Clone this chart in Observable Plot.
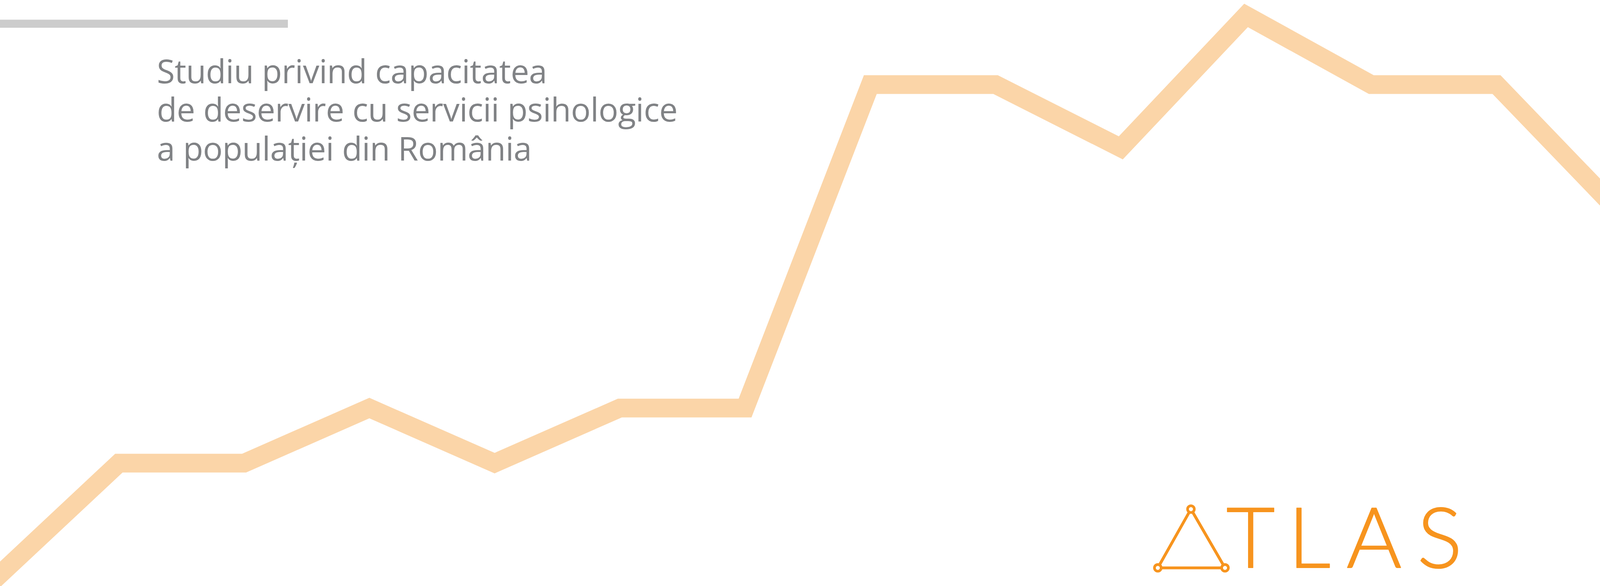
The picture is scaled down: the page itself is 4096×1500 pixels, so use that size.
<!DOCTYPE html>
<html>
<head>
<meta charset="utf-8">
<script src="https://cdn.jsdelivr.net/npm/d3@7"></script>
<script src="https://cdn.jsdelivr.net/npm/@observablehq/plot@0.6"></script>
<style>
  html, body { margin: 0; padding: 0; background: #ffffff; overflow: hidden; }
  #chart svg { display: block; overflow: hidden; }
</style>
</head>
<body>
<div id="chart"></div>
<script>
// ---- data ----
const steps  = [0, 1, 2, 3, 4, 5, 6, 7, 8, 9, 10, 11, 12, 13];
const values = [1, 21, 21, 30.4, 21, 30.4, 30.4, 85.6, 85.6, 74.8, 97.4, 85.6, 85.6, 63.4];
const titleLines = ["Studiu privind capacitatea", "de deservire cu servicii psihologice", "a populației din România"];
const logoWord = "ATLAS";
const logoLetters = "TLAS";

const W = 4096, H = 1500;
const LINE = "#FBD5A8", ORANGE = "#F7941E", GREY_TEXT = "#808285", GREY_BAR = "#CCCCCC";

const table = steps.map((s, i) => ({step: s, value: values[i]}));

// decorative pieces (grey bar + logo)
function decor() {
  return (index, scales, vals, dims) => {
    const g = d3.create("svg:g");
    g.append("rect").attr("x", 0).attr("y", 50.4).attr("width", 737).attr("height", 20.6).attr("fill", GREY_BAR);
    const logo = g.append("g").attr("aria-label", logoWord);
    const top = [3048.8, 1303.2], bl = [2964, 1453.6], br = [3136, 1453.6];
    logo.append("path")
      .attr("d", `M${top}L${bl}M${top}L${br}M${bl}L${br}`)
      .attr("fill", "none").attr("stroke", ORANGE).attr("stroke-width", 7.4).attr("stroke-linecap", "round");
    for (const p of [top, bl, br]) {
      logo.append("circle").attr("cx", p[0]).attr("cy", p[1]).attr("r", 8.6)
        .attr("fill", "#ffffff").attr("stroke", ORANGE).attr("stroke-width", 6.8);
    }
    logo.append("text")
      .attr("x", "3201.6 3352 3517.6 3685.6")
      .attr("y", 1453)
      .attr("text-anchor", "middle")
      .attr("font-family", "Lato")
      .attr("font-weight", 300)
      .attr("font-size", 216)
      .attr("fill", ORANGE)
      .attr("stroke", ORANGE)
      .attr("stroke-width", 2.2)
      .attr("stroke-linejoin", "round")
      .text(logoLetters);
    return g.node();
  };
}

const baselines = [212, 310.4, 410.4];
const titleMarks = titleLines.map((line, i) => Plot.text([line], {
  text: d => d,
  frameAnchor: "top-left", dx: 401, dy: baselines[i],
  textAnchor: "start", lineAnchor: "bottom",
  fontFamily: "Open Sans", fontSize: 84, fontWeight: 400, fill: GREY_TEXT,
  ariaLabel: "title-line"
}));

const chart = Plot.plot({
  width: W,
  height: H,
  margin: 0,
  style: {background: "#ffffff", overflow: "hidden"},
  x: {type: "linear", domain: [0, 13], range: [-16.8, 4151.2], axis: null},
  y: {type: "linear", domain: [0, 100], range: [H, 0], axis: null},
  marks: [
    Plot.line(table, {
      x: "step", y: "value",
      stroke: LINE, strokeWidth: 48,
      strokeLinejoin: "miter", strokeLinecap: "butt", strokeMiterlimit: 10,
      clip: "frame"
    }),
    decor(),
    ...titleMarks
  ]
});

document.getElementById("chart").appendChild(chart);

// tracking of each title line fitted to the measured line lengths
const inkTargets = [991.2, 1325.6, 952];
const texts = Array.from(chart.querySelectorAll("text")).filter(t => titleLines.includes(t.textContent));
texts.forEach(t => {
  const i = titleLines.indexOf(t.textContent);
  let ls = 2.0;
  const len = t.getComputedTextLength();
  if (len > 100) {
    const v = (inkTargets[i] - (len - 8)) / (t.textContent.length - 1);
    if (isFinite(v) && v > -3 && v < 6) ls = v;
  }
  t.setAttribute("letter-spacing", ls.toFixed(2));
  t.style.letterSpacing = ls.toFixed(2) + "px";
});
</script>
</body>
</html>
